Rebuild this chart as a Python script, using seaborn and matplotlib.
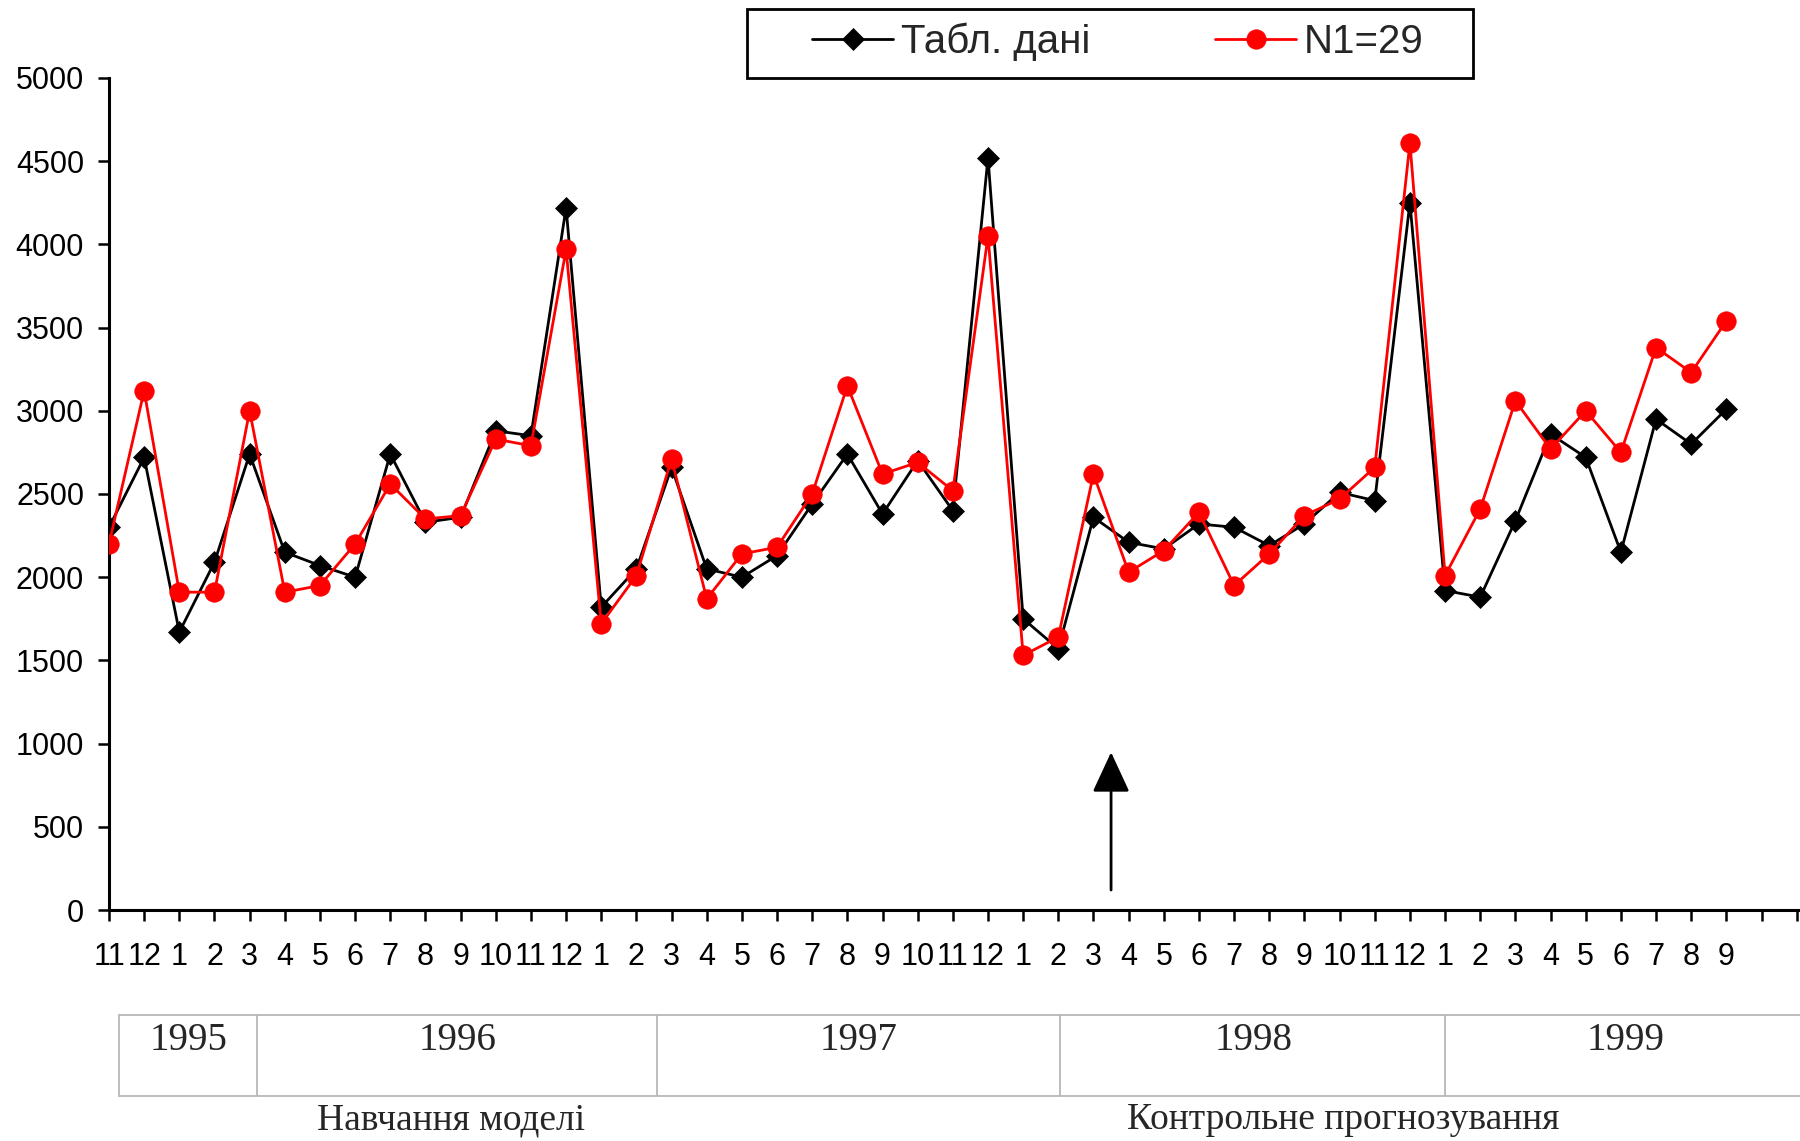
import matplotlib
matplotlib.use("Agg")
import matplotlib.pyplot as plt
import numpy as np
import pandas as pd
import seaborn as sns
from matplotlib.lines import Line2D
from matplotlib.patches import Rectangle

# Month labels along the time axis: Nov 1995 .. Sep 1999
months = ["11", "12"] + [str(m) for m in range(1, 13)] * 3 + [str(m) for m in range(1, 10)]

# Tabulated (observed) values
table_data = [2300, 2720, 1670, 2090, 2740, 2150, 2070, 2000, 2740, 2330,
              2360, 2880, 2850, 4220, 1820, 2050, 2660, 2050, 2000, 2130,
              2440, 2740, 2380, 2700, 2400, 4520, 1750, 1570, 2360, 2210,
              2170, 2320, 2300, 2190, 2320, 2510, 2460, 4250, 1920, 1880,
              2340, 2860, 2720, 2150, 2950, 2800, 3010]

# Model output, N1 = 29
model_n1 = [2200, 3120, 1910, 1910, 3000, 1910, 1950, 2200, 2560, 2350,
            2370, 2830, 2790, 3970, 1720, 2010, 2710, 1870, 2140, 2180,
            2500, 3150, 2620, 2690, 2520, 4050, 1530, 1640, 2620, 2030,
            2160, 2390, 1950, 2140, 2370, 2470, 2660, 4610, 2010, 2410,
            3060, 2770, 3000, 2750, 3380, 3230, 3540]

years = ["1995", "1996", "1997", "1998", "1999"]
series_names = ["Табл. дані", "N1=29"]
phase_names = ["Навчання моделі", "Контрольне прогнозування"]

idx = np.arange(len(months))
df = pd.DataFrame({"t": np.concatenate([idx, idx]),
                   "value": table_data + model_n1,
                   "series": [series_names[0]] * len(idx) + [series_names[1]] * len(idx)})

sns.set_style("ticks")
sans = ["Liberation Sans", "DejaVu Sans"]
serif = ["Liberation Serif", "DejaVu Serif"]
plt.rcParams["font.family"] = sans

W, H = 1800, 1141
fig = plt.figure(figsize=(W / 100, H / 100), dpi=100)
ax = fig.add_axes([109 / W, 1 - 910 / H, 1 - 109 / W, (910 - 78) / H])

obs = df[df.series == series_names[0]]
mod = df[df.series == series_names[1]]
sns.lineplot(data=obs, x="t", y="value", ax=ax, color="black", lw=2.0,
             marker="D", markersize=11.5, markeredgecolor="black",
             markeredgewidth=0.5, label=series_names[0], zorder=3)
sns.lineplot(data=mod, x="t", y="value", ax=ax, color="#ff0000", lw=2.0,
             marker="o", markersize=14, markeredgecolor="#ff0000",
             markeredgewidth=0.5, label=series_names[1], zorder=4)

ax.set_xlim(0, (W - 109) / 35.16)
ax.set_ylim(0, 5000)
ax.set_yticks(np.arange(0, 5001, 500))
ax.set_xticks(np.arange(0, 49))
ax.set_xticklabels(months + ["", ""])
ax.set_xlabel("")
ax.set_ylabel("")
for s in ["top", "right"]:
    ax.spines[s].set_visible(False)
for s in ["left", "bottom"]:
    ax.spines[s].set_linewidth(2.2)
    ax.spines[s].set_color("black")
ax.tick_params(axis="both", direction="out", length=8, width=1.8,
               colors="black", labelsize=22)
ax.tick_params(axis="x", pad=15)
ax.tick_params(axis="y", pad=10)

# Arrow marking the start of the control forecast
ax.annotate("", xy=(28.5, 948), xytext=(28.5, 120),
            arrowprops=dict(arrowstyle="-|>,head_length=1.25,head_width=0.58",
                            mutation_scale=20, lw=2, color="black",
                            shrinkA=0, shrinkB=0))

def fx(px):
    return px / W

def fy(py):
    return 1 - py / H

# Legend: entries without frame, boxed by a separate rectangle
ax.legend(loc="center", bbox_to_anchor=(fx(1118), fy(42)),
          bbox_transform=fig.transFigure, ncol=2,
          frameon=False, handlelength=2.0, handletextpad=0.2,
          columnspacing=3.1, borderpad=0.0,
          prop={"family": sans, "size": 29})
fig.add_artist(Rectangle((fx(747), fy(78)), fx(1473) - fx(747), fy(9) - fy(78),
                         transform=fig.transFigure, fill=False,
                         edgecolor="black", lw=2.0))

# Year band under the axis
grey = "#b8b8b8"
top, bot = 1015, 1096
fig.add_artist(Line2D([fx(119), 1], [fy(top), fy(top)], color=grey, lw=1.3))
fig.add_artist(Line2D([fx(119), 1], [fy(bot), fy(bot)], color=grey, lw=1.3))
for xp in [119, 257, 657, 1060, 1445]:
    fig.add_artist(Line2D([fx(xp), fx(xp)], [fy(top), fy(bot)], color=grey, lw=1.3))
for yr, xc in zip(years, [189, 458, 859, 1254, 1626]):
    fig.text(fx(xc), fy(1040), yr, ha="center", va="center",
             family=serif, fontsize=28)
for name, xc in zip(phase_names, [451, 1343]):
    fig.text(fx(xc), fy(1120), name, ha="center", va="center",
             family=serif, fontsize=27)

fig.savefig("out.png", dpi=100)
